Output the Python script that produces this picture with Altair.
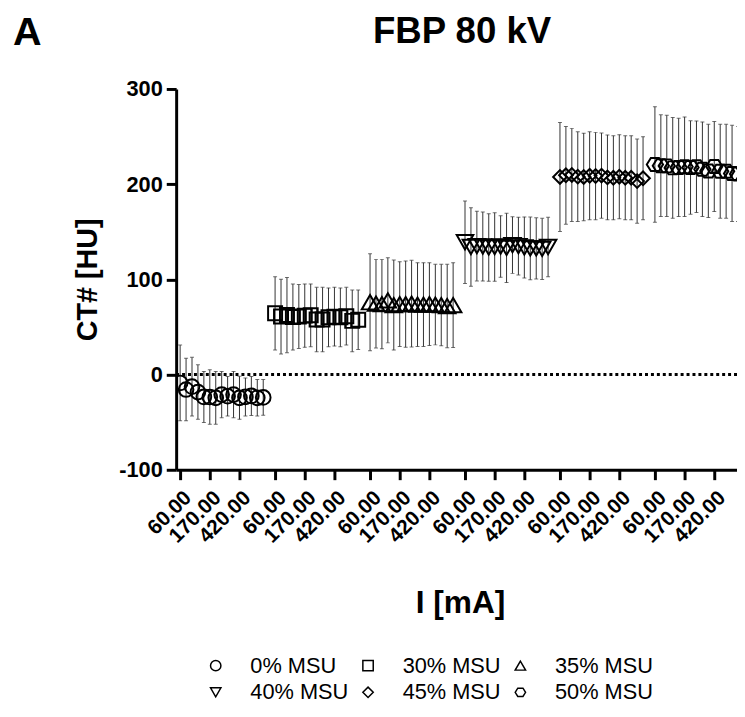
import json
import altair as alt
import pandas as pd

groups = ["0% MSU", "30% MSU", "35% MSU", "40% MSU", "45% MSU", "50% MSU"]
tick_labels = ["60.00", "170.00", "420.00"]
tick_index = [0, 5, 10]

mean_0 = [-8.8, -15.7, -12.7, -18.4, -23.5, -23.6, -24.4, -21.0, -22.7, -21.0, -24.4, -23.5, -22.4, -24.4, -24.0]
sd_0 = [39.8, 32.9, 30.8, 28.6, 26.8, 28.6, 27.7, 24.3, 20.8, 24.3, 22.6, 19.9, 20.5, 19.1, 18.7]
mean_30 = [64.3, 60.9, 62.5, 60.4, 61.0, 61.9, 62.2, 57.8, 57.8, 60.1, 60.8, 60.1, 61.3, 56.4, 57.6]
sd_30 = [38.5, 39.3, 39.5, 34.7, 33.5, 33.3, 33.0, 33.8, 33.8, 30.9, 30.9, 30.9, 30.3, 32.4, 31.2]
mean_35 = [76.0, 74.5, 74.0, 78.0, 73.0, 74.0, 74.0, 74.5, 73.5, 73.5, 74.0, 73.5, 73.0, 72.0, 73.0]
sd_35 = [50.9, 46.5, 47.0, 44.7, 47.3, 44.6, 45.3, 45.5, 44.0, 44.0, 43.5, 42.3, 42.8, 43.8, 44.5]
mean_40 = [139.0, 134.0, 135.0, 134.5, 133.5, 134.0, 134.5, 133.0, 136.0, 135.0, 133.5, 132.5, 132.5, 132.0, 134.0]
sd_40 = [43.3, 41.3, 36.6, 36.3, 35.5, 36.0, 32.4, 36.4, 29.7, 30.3, 32.1, 32.9, 32.1, 32.1, 31.2]
mean_45 = [207.6, 209.3, 209.7, 207.9, 207.6, 208.8, 208.5, 209.0, 207.1, 206.7, 207.8, 206.7, 206.7, 203.2, 206.2]
sd_45 = [57.2, 51.3, 48.9, 47.1, 46.0, 46.2, 45.9, 44.7, 44.6, 44.2, 44.2, 44.2, 44.2, 44.2, 43.7]
mean_50 = [220.7, 219.4, 219.2, 217.1, 217.6, 218.3, 217.5, 218.3, 215.7, 213.9, 218.5, 213.6, 213.6, 211.3, 210.7]
sd_50 = [60.7, 53.4, 53.2, 52.9, 51.6, 52.3, 49.0, 48.1, 49.7, 49.0, 47.3, 49.3, 49.3, 50.5, 50.0]

means = [mean_0, mean_30, mean_35, mean_40, mean_45, mean_50]
sds = [sd_0, sd_30, sd_35, sd_40, sd_45, sd_50]

stride = len(mean_0) + 1
rows = []
for g, (name, m, s) in enumerate(zip(groups, means, sds)):
    for i, (mv, sv) in enumerate(zip(m, s)):
        rows.append({"group": name, "slot": g * stride + i, "mean": mv, "sd": sv})
df = pd.DataFrame(rows)

tick_values = [g * stride + i for g in range(len(groups)) for i in tick_index]
label_expr = f"{json.dumps(tick_labels)}[(datum.value % {stride}) / {tick_index[1]}]"

FONT = "Liberation Sans"
hexagon = "M-1,0L-0.5,-0.8L0.5,-0.8L1,0L0.5,0.8L-0.5,0.8Z"
shapes = ["circle", "square", "triangle-up", "triangle-down", "diamond", hexagon]
sizes = [220, 200, 280, 280, 190, 270]

xscale = alt.Scale(domain=[-0.67, 93.83], nice=False, zero=False)
yscale = alt.Scale(domain=[-100, 300], nice=False, zero=False)

xaxis = alt.Axis(
    values=tick_values, labelExpr=label_expr, title="I [mA]",
    labelAngle=-45, labelAlign="right", labelBaseline="top",
    labelFontSize=21, labelOverlap=False, labelPadding=7,
    titleFontSize=32, titlePadding=42, titleX=287,
)
yaxis = alt.Axis(
    values=[-100, 0, 100, 200, 300], title="CT# [HU]", labelExpr="'' + datum.value",
    labelFontSize=22, labelPadding=4, titleFontSize=29, titlePadding=16,
)


def X(field):
    return alt.X(field, type="quantitative", scale=xscale, axis=xaxis)


def Y(field):
    return alt.Y(field, type="quantitative", scale=yscale, axis=yaxis)


base = alt.Chart(df).transform_calculate(
    lo="datum.mean - datum.sd", hi="datum.mean + datum.sd"
)

zero = alt.Chart(pd.DataFrame({"ref": [0]})).mark_rule(
    strokeDash=[3, 3], strokeWidth=3, color="black"
).encode(y=Y("ref"))

BAR = "#333333"
bars = base.mark_rule(color=BAR, strokeWidth=1, clip=True).encode(
    x=X("slot"), y=Y("lo"), y2="hi:Q"
)
cap_lo = base.mark_tick(orient="horizontal", size=4, thickness=1, color=BAR, clip=True).encode(
    x=X("slot"), y=Y("lo")
)
cap_hi = base.mark_tick(orient="horizontal", size=4, thickness=1, color=BAR, clip=True).encode(
    x=X("slot"), y=Y("hi")
)

legend = alt.Legend(
    title=None, orient="none", legendX=29, legendY=572,
    columns=3, direction="horizontal",
    symbolSize=110, symbolStrokeWidth=1.5,
    symbolStrokeColor="black", symbolFillColor="white",
    labelFont=FONT, labelFontSize=22, labelColor="black",
    labelOffset=24, columnPadding=8, rowPadding=5, padding=0,
)

point_layers = []
for g, name in enumerate(groups):
    point_layers.append(
        base.transform_filter(alt.datum.group == name)
        .mark_point(filled=False, strokeWidth=2, color="black", opacity=1, size=sizes[g], clip=True)
        .encode(
            x=X("slot"),
            y=Y("mean"),
            shape=alt.Shape("group:N", scale=alt.Scale(domain=groups, range=shapes), legend=legend),
        )
    )

texts = pd.DataFrame({"t": ["A"]})
panel = alt.Chart(texts).mark_text(
    font=FONT, fontSize=40, fontWeight="bold", align="left", baseline="alphabetic", color="black"
).encode(text="t:N", x=alt.value(-165), y=alt.value(-44))

title = alt.Chart(pd.DataFrame({"t": ["FBP 80 kV"]})).mark_text(
    font=FONT, fontSize=37, fontWeight="bold", align="center", baseline="alphabetic", color="black"
).encode(text="t:N", x=alt.value(289), y=alt.value(-46))

chart = alt.layer(zero, bars, cap_lo, cap_hi, *point_layers, panel, title).properties(
    width=567,
    height=385,
    autosize=alt.AutoSizeParams(type="none"),
    padding={"left": 170, "top": 78, "right": 0, "bottom": 238},
).configure_view(stroke=None).configure_axis(
    domainColor="black", domainWidth=3, tickColor="black", tickWidth=3, tickSize=10,
    labelFont=FONT, labelFontWeight="bold", labelColor="black",
    titleFont=FONT, titleFontWeight="bold", titleColor="black", grid=False,
)

chart.save("out.html", embed_options={"renderer": "svg", "actions": False})
